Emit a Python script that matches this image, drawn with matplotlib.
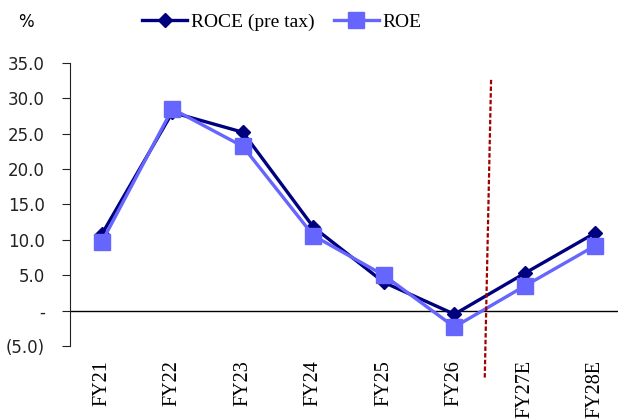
import matplotlib.pyplot as plt
from matplotlib.ticker import FuncFormatter

years = ['FY21', 'FY22', 'FY23', 'FY24', 'FY25', 'FY26', 'FY27E', 'FY28E']
roce = [10.8, 28.0, 25.2, 11.8, 4.0, -0.5, 5.3, 11.0]
roe = [9.7, 28.5, 23.2, 10.6, 5.0, -2.3, 3.5, 9.2]
yticks = [-5, 0, 5, 10, 15, 20, 25, 30, 35]

serif = 'Liberation Serif'

fig = plt.figure(figsize=(6.18, 4.19), dpi=100)
ax = fig.add_axes([0.113, 0.174, 0.887, 0.676])

x = list(range(len(years)))
ax.plot(x, roce, color='#00007F', lw=2.4, marker='D', ms=7, label='ROCE (pre tax)', zorder=3)
ax.plot(x, roe, color='#6666FF', lw=2.4, marker='s', ms=11, label='ROE', zorder=4)

# zero line across the chart
ax.axhline(0, color='black', lw=1, zorder=2)

# forecast divider (dark red, slightly slanted)
ax.plot([5.52, 5.43], [32.6, -9.6], color='#A00000', lw=1.6, ls=(0, (2, 1)), clip_on=False, zorder=5)

ax.set_xlim(-0.454, 7.32)
ax.set_ylim(-5, 35)
ax.set_yticks(yticks)

def fmt(v, pos):
    if v == 0:
        return '-'
    if v < 0:
        return '(%.1f)' % abs(v)
    return '%.1f' % v

ax.yaxis.set_major_formatter(FuncFormatter(fmt))
ax.tick_params(axis='y', direction='out', length=6, labelsize=12, colors='#222222', pad=12)
ax.tick_params(axis='x', length=0, labelsize=14.5, pad=10)
ax.set_xticks(x)
ax.set_xticklabels(years, rotation=90, family=serif, va='top')

for s in ['top', 'right', 'bottom']:
    ax.spines[s].set_visible(False)
ax.spines['left'].set_color('#222222')

fig.text(0.03, 0.947, '%', fontsize=12, family='DejaVu Sans', va='center')
leg = fig.legend(loc='center', bbox_to_anchor=(0.456, 0.947), ncol=2, frameon=False,
                 prop={'family': serif, 'size': 14}, handlelength=2.3, columnspacing=1.0,
                 handletextpad=0.2)

fig.savefig('out.png', dpi=100)
